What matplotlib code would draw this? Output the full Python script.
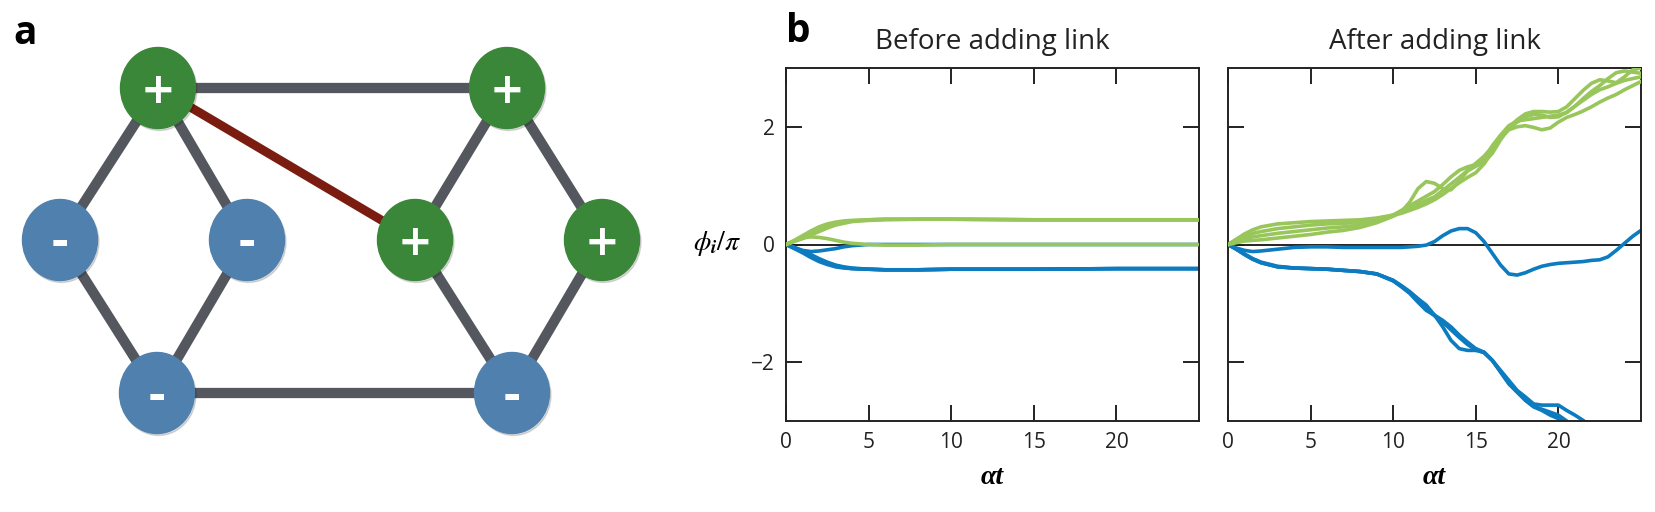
import matplotlib
matplotlib.use("Agg")
import matplotlib.pyplot as plt
from matplotlib.patches import Ellipse

plt.rcParams['font.family'] = ['Open Sans', 'DejaVu Sans']
plt.rcParams['mathtext.fontset'] = 'stix'

W, H = 1656, 512

# ---- panel a: network ----
node_sign = ['+', '+', '-', '-', '+', '+', '-', '-']
node_xy = [(158, 88), (507, 88), (60, 240), (247, 240),
           (415, 240), (602, 240), (157, 393), (512, 393)]
edges = [(0, 1), (0, 2), (0, 3), (2, 6), (3, 6), (6, 7),
         (1, 4), (1, 5), (4, 7), (5, 7)]
new_link = (0, 4)

# ---- panel b: phases (in units of pi) ----
t_before = [0, 0.5, 1, 1.5, 2, 2.5, 3, 3.5, 4, 5, 6, 8, 10, 15, 20, 25]
green_before = [
    [0, 0.07, 0.15, 0.23, 0.30, 0.35, 0.38, 0.40, 0.41, 0.42, 0.43, 0.43, 0.43, 0.42, 0.42, 0.42],
    [0, 0.06, 0.12, 0.19, 0.26, 0.31, 0.35, 0.38, 0.40, 0.42, 0.43, 0.43, 0.43, 0.42, 0.42, 0.42],
    [0, 0.05, 0.10, 0.16, 0.22, 0.28, 0.33, 0.36, 0.39, 0.41, 0.42, 0.43, 0.43, 0.42, 0.42, 0.42],
    [0, 0.06, 0.11, 0.13, 0.12, 0.10, 0.07, 0.04, 0.02, 0.0, -0.01, -0.01, 0, 0, 0, 0],
]
blue_before = [
    [0, -0.05, -0.10, -0.12, -0.11, -0.09, -0.07, -0.04, -0.02, 0.0, 0.0, 0.0, 0.0, 0, 0, 0],
    [0, -0.07, -0.14, -0.22, -0.29, -0.34, -0.38, -0.40, -0.41, -0.42, -0.43, -0.43, -0.42, -0.42, -0.41, -0.41],
    [0, -0.06, -0.12, -0.19, -0.26, -0.32, -0.36, -0.39, -0.41, -0.42, -0.43, -0.43, -0.42, -0.42, -0.41, -0.41],
    [0, -0.05, -0.11, -0.17, -0.24, -0.30, -0.35, -0.38, -0.40, -0.42, -0.43, -0.43, -0.42, -0.42, -0.41, -0.41],
]

t_after = [0, 0.5, 1, 1.5, 2, 3, 4, 5, 6, 7, 8, 9, 10,
           10.5, 11, 11.5, 12, 12.5, 13, 13.5, 14, 14.5, 15, 15.5, 16, 16.5, 17, 17.5,
           18, 18.5, 19, 19.5, 20, 20.5, 21, 21.5, 22, 22.5, 23, 23.5, 24, 24.5, 25]
green_after = [
    [0, 0.09, 0.18, 0.25, 0.30, 0.35, 0.37, 0.39, 0.40, 0.41, 0.42, 0.45, 0.50,
     0.56, 0.72, 0.95, 1.07, 1.04, 0.95, 0.93, 1.08, 1.25, 1.33, 1.40, 1.55, 1.78, 1.98, 2.12,
     2.22, 2.26, 2.26, 2.25, 2.26, 2.34, 2.48, 2.62, 2.74, 2.80, 2.78, 2.75, 2.85, 2.97, 3.0],
    [0, 0.07, 0.14, 0.19, 0.22, 0.27, 0.30, 0.33, 0.35, 0.36, 0.38, 0.42, 0.50,
     0.53, 0.58, 0.63, 0.69, 0.76, 0.85, 0.95, 1.05, 1.14, 1.22, 1.37, 1.58, 1.80, 1.95, 2.00,
     2.02, 1.99, 1.95, 1.98, 2.08, 2.16, 2.21, 2.27, 2.34, 2.42, 2.49, 2.55, 2.63, 2.70, 2.77],
    [0, 0.05, 0.10, 0.13, 0.15, 0.19, 0.22, 0.25, 0.28, 0.30, 0.33, 0.40, 0.50,
     0.58, 0.66, 0.74, 0.82, 0.90, 1.02, 1.15, 1.26, 1.32, 1.36, 1.45, 1.68, 1.86, 2.02, 2.10,
     2.12, 2.14, 2.16, 2.18, 2.20, 2.24, 2.35, 2.48, 2.60, 2.70, 2.82, 2.92, 2.95, 2.93, 2.91],
    [0, 0.03, 0.06, 0.07, 0.08, 0.11, 0.14, 0.17, 0.21, 0.24, 0.29, 0.37, 0.48,
     0.55, 0.62, 0.68, 0.75, 0.81, 0.92, 1.03, 1.14, 1.26, 1.38, 1.50, 1.66, 1.82, 1.97, 2.08,
     2.17, 2.21, 2.20, 2.16, 2.17, 2.25, 2.35, 2.45, 2.55, 2.63, 2.68, 2.74, 2.79, 2.82, 2.85],
]
blue_after = [
    [0, -0.06, -0.10, -0.12, -0.11, -0.08, -0.05, -0.04, -0.04, -0.05, -0.05, -0.05, -0.05,
     -0.05, -0.04, -0.03, -0.01, 0.05, 0.15, 0.23, 0.27, 0.27, 0.20, 0.05, -0.15, -0.35, -0.50, -0.52,
     -0.48, -0.42, -0.37, -0.34, -0.32, -0.31, -0.30, -0.29, -0.27, -0.26, -0.21, -0.10, 0.02, 0.14, 0.24],
    [0, -0.08, -0.17, -0.25, -0.31, -0.38, -0.40, -0.41, -0.42, -0.44, -0.46, -0.50, -0.61,
     -0.70, -0.80, -0.92, -1.03, -1.20, -1.40, -1.63, -1.77, -1.80, -1.80, -1.83, -1.97, -2.14, -2.31, -2.48,
     -2.59, -2.71, -2.73, -2.73, -2.73, -2.82, -2.90, -2.99, -3.1, -3.2, -3.3, -3.4, -3.5, -3.6, -3.7],
    [0, -0.08, -0.17, -0.25, -0.31, -0.38, -0.40, -0.41, -0.42, -0.44, -0.46, -0.50, -0.62,
     -0.72, -0.83, -0.98, -1.12, -1.20, -1.29, -1.40, -1.54, -1.66, -1.77, -1.83, -1.97, -2.17, -2.37, -2.51,
     -2.65, -2.76, -2.82, -2.90, -2.96, -3.05, -3.15, -3.25, -3.35, -3.45, -3.55, -3.65, -3.75, -3.85, -3.95],
    [0, -0.07, -0.16, -0.24, -0.30, -0.37, -0.40, -0.41, -0.42, -0.44, -0.46, -0.50, -0.61,
     -0.71, -0.82, -0.96, -1.10, -1.21, -1.32, -1.45, -1.58, -1.70, -1.79, -1.84, -1.97, -2.16, -2.35, -2.50,
     -2.63, -2.75, -2.80, -2.85, -2.90, -3.0, -3.1, -3.2, -3.3, -3.4, -3.5, -3.6, -3.7, -3.8, -3.9],
]

xticks = [0, 5, 10, 15, 20]
yticks = [-2, 0, 2]
titles = ['Before adding link', 'After adding link']

GREEN_NODE = '#3b873a'
BLUE_NODE = '#4f80ae'
EDGE = '#54575e'
LINK = '#7b1c10'
GREEN_LINE = '#99c65a'
BLUE_LINE = '#0c7bc0'

fig = plt.figure(figsize=(W / 100, H / 100), dpi=100)

# panel a
axa = fig.add_axes([0, 0, 650 / W, 1])
axa.set_xlim(0, 650)
axa.set_ylim(512, 0)
axa.axis('off')
for i, j in edges:
    axa.plot([node_xy[i][0], node_xy[j][0]], [node_xy[i][1], node_xy[j][1]],
             color=EDGE, lw=7.4, solid_capstyle='butt', zorder=1)
i, j = new_link
axa.plot([node_xy[i][0], node_xy[j][0]], [node_xy[i][1], node_xy[j][1]],
         color=LINK, lw=6.4, solid_capstyle='butt', zorder=1)
for (x, y), s in zip(node_xy, node_sign):
    col = GREEN_NODE if s == '+' else BLUE_NODE
    axa.add_patch(Ellipse((x + 1.5, y + 2), 75, 81, color='#00000022', zorder=2))
    axa.add_patch(Ellipse((x, y), 75, 81, color=col, zorder=3))
    if s == '+':
        axa.text(x, y + 3, '+', color='white', fontsize=30, fontweight='bold',
                 family='DejaVu Sans', ha='center', va='center', zorder=4)
    else:
        axa.text(x, y + 4, '-', color='white', fontsize=32, fontweight='bold',
                 family='DejaVu Sans', ha='center', va='center', zorder=4)

fig.text(25 / W, 1 - 33 / H, 'a', fontsize=28, fontweight='bold', ha='center', va='center')
fig.text(798 / W, 1 - 32 / H, 'b', fontsize=28, fontweight='bold', ha='center', va='center')

# panel b
axes = [fig.add_axes([786 / W, 1 - 421 / H, 413 / W, 353 / H]),
        fig.add_axes([1228 / W, 1 - 421 / H, 413 / W, 353 / H])]
sets = [(t_before, green_before, blue_before), (t_after, green_after, blue_after)]
for k, (ax, (t, greens, blues)) in enumerate(zip(axes, sets)):
    ax.axhline(0, color='black', lw=1.2, zorder=1)
    for y in blues:
        ax.plot(t, y, color=BLUE_LINE, lw=2.6, zorder=2)
    for y in greens:
        ax.plot(t, y, color=GREEN_LINE, lw=2.6, zorder=3)
    ax.set_xlim(0, 25)
    ax.set_ylim(-3, 3)
    ax.set_xticks(xticks)
    ax.set_yticks(yticks)
    ax.tick_params(direction='in', length=11.5, width=1.4, top=True, right=True,
                   labelsize=15, pad=8, colors='#222222')
    if k == 1:
        ax.tick_params(labelleft=False)
    for sp in ax.spines.values():
        sp.set_linewidth(1.4)
        sp.set_color('#222222')
    ax.set_title(titles[k], fontsize=20, pad=14, color='#222222')
    fig.text((ax.get_position().x0 + ax.get_position().x1) / 2, 1 - 478 / H, 'αt',
             family=['Liberation Serif', 'DejaVu Serif'], style='italic', fontweight='bold',
             fontsize=20, ha='center', va='center')

fig.text(717 / W, 1 - 243 / H, r'$\phi_{\boldsymbol{i}}/\pi$', fontsize=20, ha='center', va='center')

fig.savefig('out.png', dpi=100)
